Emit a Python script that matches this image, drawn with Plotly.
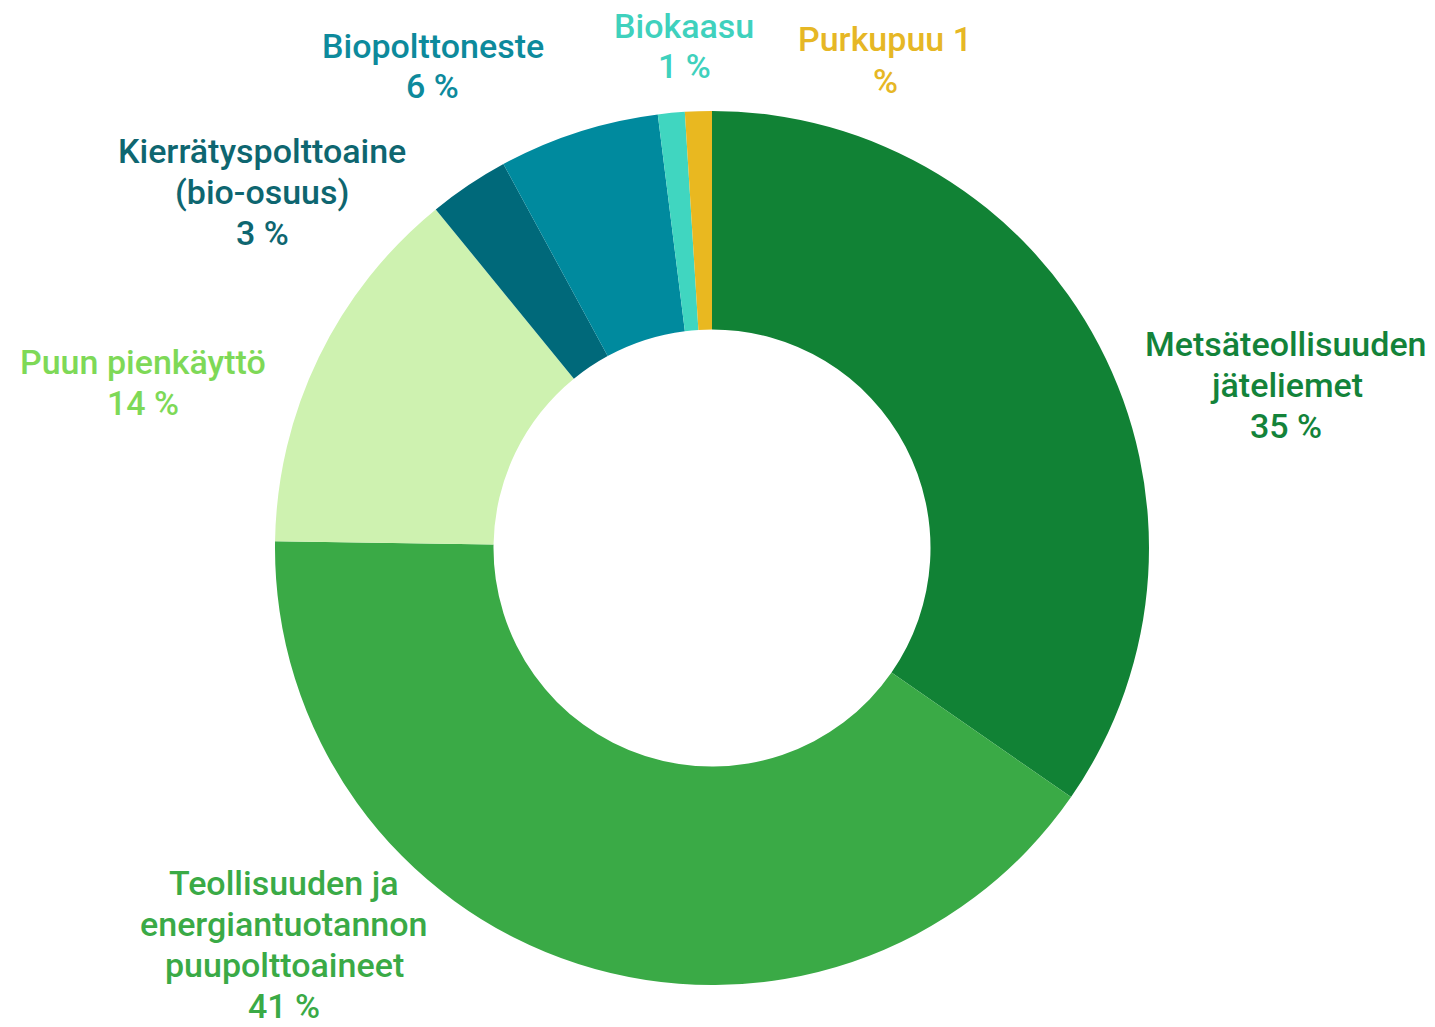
import plotly.graph_objects as go

# Biomass energy sources, shares in percent
categories = [
    "Metsäteollisuuden<br>jäteliemet",
    "Teollisuuden ja<br>energiantuotannon<br>puupolttoaineet",
    "Puun pienkäyttö",
    "Kierrätyspolttoaine<br>(bio-osuus)",
    "Biopolttoneste",
    "Biokaasu",
    "Purkupuu",
]
shares = [35, 41, 14, 3, 6, 1, 1]

slice_colors = ["#118235", "#3aaa46", "#cef2b0", "#00697a", "#008a9e", "#40d6c0", "#e9b820"]
label_colors = ["#13833a", "#3aaa46", "#7ed957", "#0e6670", "#0d8a9c", "#3fd1bd", "#e6b725"]

# label placement (pixel centres on a 1435x1027 canvas) and line-wrapping rules
W, H = 1435, 1027
label_pos = [(1286, 385), (284, 944), (143, 382), (262, 192), (433, 66), (684, 46), (885, 60)]
sep_before_value = ["<br>", "<br>", "<br>", "<br>", "<br>", "<br>", " "]
sep_before_pct = [" ", " ", " ", " ", " ", " ", "<br>"]
LINE_GAP = 41  # px between label lines
FONT_SIZE = 34

fig = go.Figure(
    go.Pie(
        labels=categories,
        values=shares,
        sort=False,
        direction="clockwise",
        rotation=0,
        hole=0.5,
        textinfo="none",
        marker=dict(colors=slice_colors, line=dict(width=0)),
        domain=dict(x=[(712 - 437) / W, (712 + 437) / W],
                    y=[(H - 548 - 437) / H, (H - 548 + 437) / H]),
        showlegend=False,
        hoverinfo="label+percent",
    )
)

# each label line is placed on its own so the line spacing stays compact
for name, v, (px, py), s1, s2, col in zip(categories, shares, label_pos,
                                           sep_before_value, sep_before_pct, label_colors):
    lines = f"{name}{s1}{v}{s2}%".split("<br>")
    n = len(lines)
    for i, line in enumerate(lines):
        ly = py + (i - (n - 1) / 2) * LINE_GAP
        fig.add_annotation(
            x=px / W, y=(H - ly) / H, xref="paper", yref="paper",
            xanchor="center", yanchor="middle",
            text=line, showarrow=False, align="center", borderpad=0,
            font=dict(family="Roboto", size=FONT_SIZE, color=col, weight=500),
        )

fig.update_layout(
    width=W, height=H,
    margin=dict(l=0, r=0, t=0, b=0),
    paper_bgcolor="white", plot_bgcolor="white",
)

fig.write_html("out.html")
